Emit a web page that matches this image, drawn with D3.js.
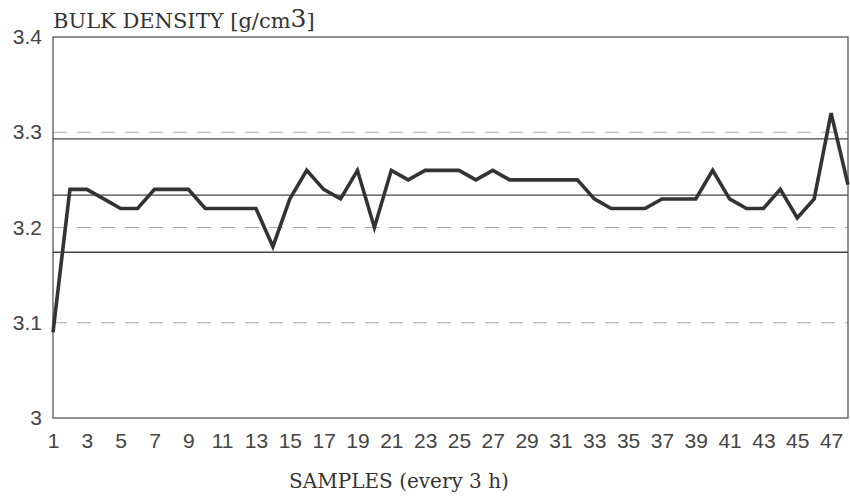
<!DOCTYPE html>
<html>
<head>
<meta charset="utf-8">
<script src="https://cdn.jsdelivr.net/npm/d3@7"></script>
<style>
  body { margin: 0; background: #fff; }
  svg { display: block; }
</style>
</head>
<body>
<div id="chart"></div>
<script>
// Data
var samples = d3.range(1, 49);
var density = [3.09, 3.24, 3.24, 3.23, 3.22, 3.22, 3.24, 3.24, 3.24, 3.22,
               3.22, 3.22, 3.22, 3.18, 3.23, 3.26, 3.24, 3.23, 3.26, 3.20,
               3.26, 3.25, 3.26, 3.26, 3.26, 3.25, 3.26, 3.25, 3.25, 3.25,
               3.25, 3.25, 3.23, 3.22, 3.22, 3.22, 3.23, 3.23, 3.23, 3.26,
               3.23, 3.22, 3.22, 3.24, 3.21, 3.23, 3.32, 3.245];
var yTicks = [3, 3.1, 3.2, 3.3, 3.4];
var xTicks = d3.range(1, 48, 2);
var gridValues = [3.1, 3.2, 3.3];
var controlLines = [3.174, 3.234, 3.293];

// Set SVG dimensions
var svgWidth = 850;
var svgHeight = 498;

var margin = { top: 37, right: 2, bottom: 80, left: 53 };
var chartWidth = svgWidth - margin.left - margin.right;
var chartHeight = svgHeight - margin.top - margin.bottom;

var svg = d3.select("#chart")
    .append("svg")
    .attr("width", svgWidth)
    .attr("height", svgHeight);

var chartGroup = svg.append("g")
    .attr("transform", `translate(${margin.left},${margin.top})`);

// Scales
var xScale = d3.scaleLinear()
    .domain([1, 48])
    .range([0, chartWidth]);

var yScale = d3.scaleLinear()
    .domain([3, 3.4])
    .range([chartHeight, 0]);

// Dashed gridlines
chartGroup.selectAll(".grid")
    .data(gridValues)
    .enter()
    .append("line")
    .attr("x1", 0)
    .attr("x2", chartWidth)
    .attr("y1", d => yScale(d))
    .attr("y2", d => yScale(d))
    .attr("stroke", "#aaa")
    .attr("stroke-width", 1)
    .attr("stroke-dasharray", "14,10");

// Control lines
chartGroup.selectAll(".ctrl")
    .data(controlLines)
    .enter()
    .append("line")
    .attr("x1", 0)
    .attr("x2", chartWidth)
    .attr("y1", d => yScale(d))
    .attr("y2", d => yScale(d))
    .attr("stroke", "#444")
    .attr("stroke-width", 1.3);

// Frame
chartGroup.append("rect")
    .attr("x", 0)
    .attr("y", 0)
    .attr("width", chartWidth)
    .attr("height", chartHeight)
    .attr("fill", "none")
    .attr("stroke", "#555")
    .attr("stroke-width", 1.3);

// Axes
var yAxis = d3.axisLeft(yScale)
    .tickValues(yTicks)
    .tickFormat(d3.format("~g"))
    .tickSize(0)
    .tickPadding(11);

var xAxis = d3.axisBottom(xScale)
    .tickValues(xTicks)
    .tickFormat(d => d)
    .tickSize(0)
    .tickPadding(15);

var yG = chartGroup.append("g").call(yAxis);
var xG = chartGroup.append("g")
    .attr("transform", `translate(0,${chartHeight})`)
    .call(xAxis);

[yG, xG].forEach(function(g) {
    g.select(".domain").remove();
    g.selectAll("text")
        .style("font-family", "'Liberation Sans', Arial, sans-serif")
        .style("font-size", "21px")
        .attr("fill", "#444");
});

// Data line
var line = d3.line()
    .x((d, i) => xScale(samples[i]))
    .y(d => yScale(d));

chartGroup.append("path")
    .datum(density)
    .attr("fill", "none")
    .attr("stroke", "#333")
    .attr("stroke-width", 3.6)
    .attr("stroke-linejoin", "miter")
    .attr("d", line);

// Titles
var title = svg.append("text")
    .attr("x", 53)
    .attr("y", 28)
    .style("font-family", "'DejaVu Serif', serif")
    .style("font-size", "21px")
    .attr("fill", "#333")
    .text("BULK DENSITY [g/cm");
title.append("tspan")
    .style("font-size", "25px")
    .attr("dy", -1)
    .text("3");
title.append("tspan")
    .attr("dy", 1)
    .text("]");

svg.append("text")
    .attr("x", 399)
    .attr("y", 488)
    .attr("text-anchor", "middle")
    .style("font-family", "'DejaVu Serif', serif")
    .style("font-size", "20px")
    .attr("fill", "#333")
    .text("SAMPLES (every 3 h)");
</script>
</body>
</html>
